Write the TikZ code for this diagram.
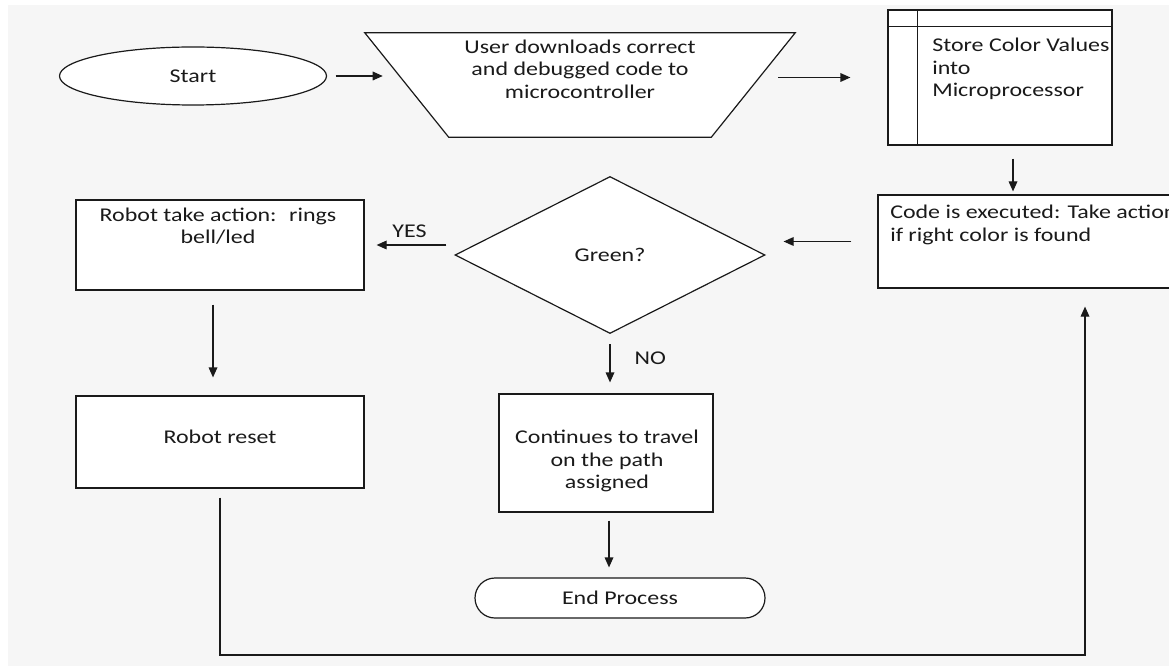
\documentclass[tikz,border=0pt]{standalone}
\usepackage{fontspec}
\setmainfont{Carlito}[FakeStretch=1.23]
\usetikzlibrary{shapes.geometric,arrows.meta,calc}
\definecolor{bg}{HTML}{F6F6F6}
\definecolor{ink}{HTML}{1A1A1A}
\begin{document}
\begin{tikzpicture}[x=0.75pt,y=-0.75pt,
  every node/.style={font=\fontsize{14.6}{16.8}\selectfont, text=ink},
  shapebox/.style={draw=ink, line width=0.9pt, fill=white, inner sep=0pt},
  arr/.style={draw=ink, line width=0.9pt, -{Triangle[length=7.5pt,width=6.5pt]}},
  txt/.style={inner sep=0pt, align=center},
  lbl/.style={inner sep=0pt}
]
\useasboundingbox (0,0) rectangle (1169,666);
\clip (0,0) rectangle (1169,666);
\fill[bg] (8,5) rectangle (1169,666);

% shapes
\node[shapebox, ellipse, minimum width=200.25pt, minimum height=43.5pt] (start) at (193,76) {Start};
\node[inner sep=0pt, minimum width=322.5pt, minimum height=78pt] (dl) at (580,85) {};
\draw[ink, line width=0.9pt, fill=white] (dl.north west) -- (dl.north east)
   -- ($(dl.south east)+(-84,0)$) -- ($(dl.south west)+(84,0)$) -- cycle;
\coordinate (dlw) at ($(dl.west)+(42,0)$);
\coordinate (dle) at ($(dl.east)+(-42,0)$);
\node[shapebox, rectangle, minimum width=168pt, minimum height=101.25pt] (store) at (1000,77.5) {};
\draw[ink, line width=0.9pt] ($(store.north west)+(30,0)$) -- ($(store.south west)+(30,0)$);
\draw[ink, line width=0.9pt] ($(store.north west)+(0,17)$) -- ($(store.north east)+(0,17)$);
\node[shapebox, rectangle, minimum width=310.5pt, minimum height=69.75pt] (code) at (1085,241.5) {};
\node[shapebox, diamond, minimum width=232.5pt, minimum height=117.75pt] (dia) at (610,255) {Green?};
\node[shapebox, rectangle, minimum width=216pt, minimum height=67.5pt] (robot) at (220,245) {};
\node[shapebox, rectangle, minimum width=216pt, minimum height=69pt] (reset) at (220,442) {};
\node[shapebox, rectangle, minimum width=160.5pt, minimum height=88.5pt] (cont) at (606,453) {};
\node[shapebox, rectangle, rounded corners=15pt, minimum width=217.5pt, minimum height=30pt] (end) at (620,598) {End Process};

% texts
\node[txt] (dlt) at (580,69) {User downloads correct\\and debugged code to\\microcontroller};
\node[txt, align=left, anchor=west] (storet) at (932,69) {Store Color Values\\into\\Microprocessor};
\node[txt, align=left, anchor=west] (codet) at (890,225) {Code is executed: Take action\\if right color is found};
\node[txt] (robott) at (218,226) {Robot take action:~ rings\\bell/led};
\node[txt] (resett) at (220,437) {Robot reset};
\node[txt] (contt) at (607,461) {Continues to travel\\on the path\\assigned};

% connectors
\draw[arr, shorten <=6.4pt, shorten >=18pt] (start.east) -- (start.east -| dlw);
\draw[arr, shorten <=18.75pt, shorten >=27.75pt] (store.west -| dle) -- (store.west);
\draw[arr, shorten <=9.75pt, shorten >=2.25pt] ([xshift=9.75pt]store.south) -- ([xshift=9.75pt]store.south |- code.north);
\draw[arr, shorten <=19.5pt, shorten >=13.5pt] (code.west) -- (code.west -| dia.east);
\draw[arr, shorten <=6pt, shorten >=9pt] (dia.west |- robot.east) -- node[lbl, midway, above=5pt] (yes) {YES} (robot.east);
\draw[arr, shorten <=10.5pt, shorten >=13.5pt] ([xshift=-5.25pt]robot.south) -- ([xshift=-5.25pt]reset.north);
\draw[arr, shorten <=7.5pt, shorten >=8.25pt] (dia.south) -- node[lbl, pos=0.4, right=18pt] (no) {NO} (dia.south |- cont.north);
\draw[arr, shorten <=6pt, shorten >=7.5pt] ([xshift=2.25pt]cont.south) -- ([xshift=2.25pt]cont.south |- end.north);
\coordinate (lc) at (220,655);
\draw[arr, shorten <=6.75pt, shorten >=13.5pt] (reset.south) -- (lc) -| (code.south);
\end{tikzpicture}
\end{document}
